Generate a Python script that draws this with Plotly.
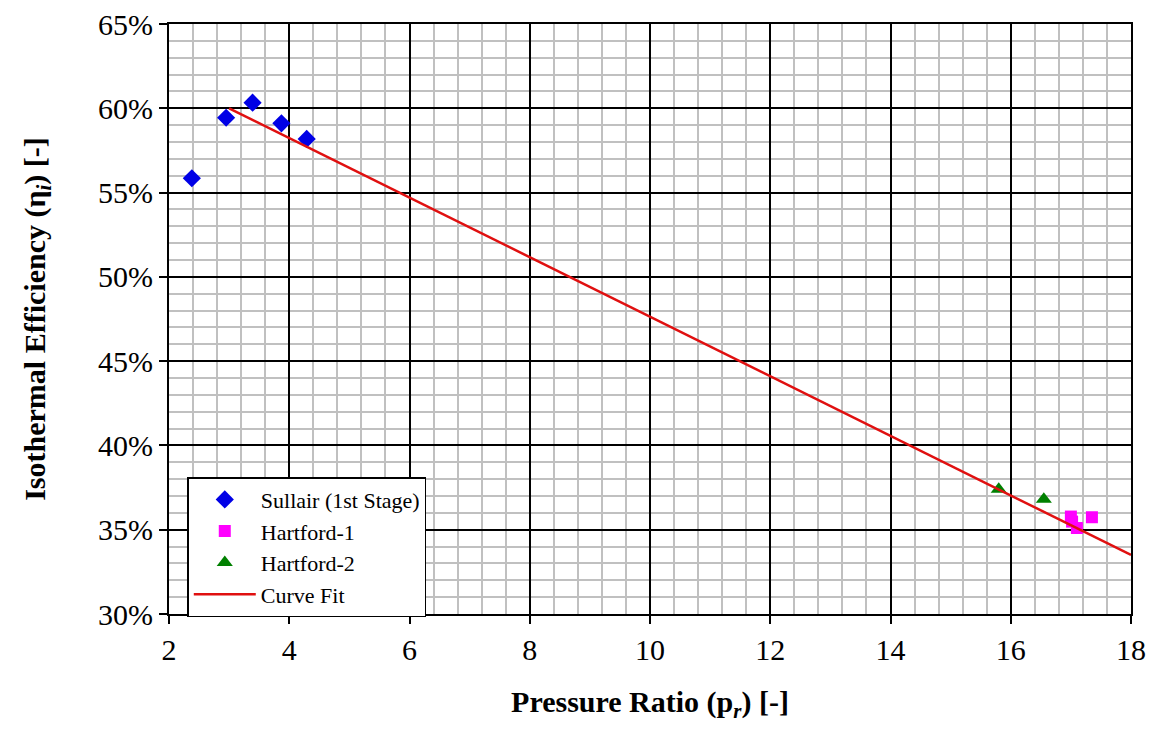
import plotly.graph_objects as go

# Data
sullair_x = [2.38, 2.95, 3.39, 3.87, 4.29]
sullair_y = [0.5585, 0.5944, 0.6033, 0.5911, 0.5818]

hartford1_x = [17.00, 17.02, 17.10, 17.35]
hartford1_y = [0.3578, 0.3548, 0.3510, 0.3574]

hartford2_x = [15.80, 16.55]
hartford2_y = [0.3740, 0.3680]

fit_x = [3.0, 18.0]
fit_y = [0.600, 0.335]

FONT = "Liberation Serif"

fig = go.Figure()
fig.add_trace(go.Scatter(x=sullair_x, y=sullair_y, mode="markers", name="Sullair (1st Stage)",
                         marker=dict(symbol="diamond", size=14, color="#0000e6")))
fig.add_trace(go.Scatter(x=hartford1_x, y=hartford1_y, mode="markers", name="Hartford-1",
                         marker=dict(symbol="square", size=12, color="#ff00ff")))
fig.add_trace(go.Scatter(x=hartford2_x, y=hartford2_y, mode="markers", name="Hartford-2",
                         marker=dict(symbol="triangle-up", size=14, color="#008000")))
fig.add_trace(go.Scatter(x=fit_x, y=fit_y, mode="lines", name="Curve Fit",
                         line=dict(color="#e01010", width=2.5)))

axis_common = dict(
    showline=True, linecolor="black", linewidth=2, mirror=True,
    ticks="outside", ticklen=8, tickwidth=2, tickcolor="black",
    showgrid=True, gridcolor="black", gridwidth=2,
    zeroline=False, automargin=False,
    tickfont=dict(family=FONT, size=30, color="black"),
)

fig.update_layout(
    width=1158, height=730,
    margin=dict(l=169, r=27, t=24, b=116),
    paper_bgcolor="white", plot_bgcolor="white",
    showlegend=True,
    legend=dict(
        x=0.019, y=0.232, xanchor="left", yanchor="top",
        bgcolor="white", bordercolor="black", borderwidth=1.5,
        font=dict(family=FONT, size=22, color="black"),
        itemwidth=62, tracegroupgap=0,
    ),
    xaxis=dict(
        range=[2, 18], dtick=2, tick0=2,
        minor=dict(dtick=0.4, tick0=2, showgrid=True, gridcolor="#c0c0c0", gridwidth=2),
        title=dict(text="<b>Pressure Ratio (p<sub><i>r</i></sub>) [-]</b>",
                   font=dict(family=FONT, size=30, color="black"), standoff=26),
        **axis_common,
    ),
    yaxis=dict(
        range=[0.30, 0.65], dtick=0.05, tick0=0.30, tickformat=".0%",
        minor=dict(dtick=0.01, tick0=0.30, showgrid=True, gridcolor="#c0c0c0", gridwidth=2),
        title=dict(text="<b>Isothermal Efficiency (η<sub><i>i</i></sub>) [-]</b>",
                   font=dict(family=FONT, size=30, color="black"), standoff=44),
        **axis_common,
    ),
)

fig.write_html("out.html")
